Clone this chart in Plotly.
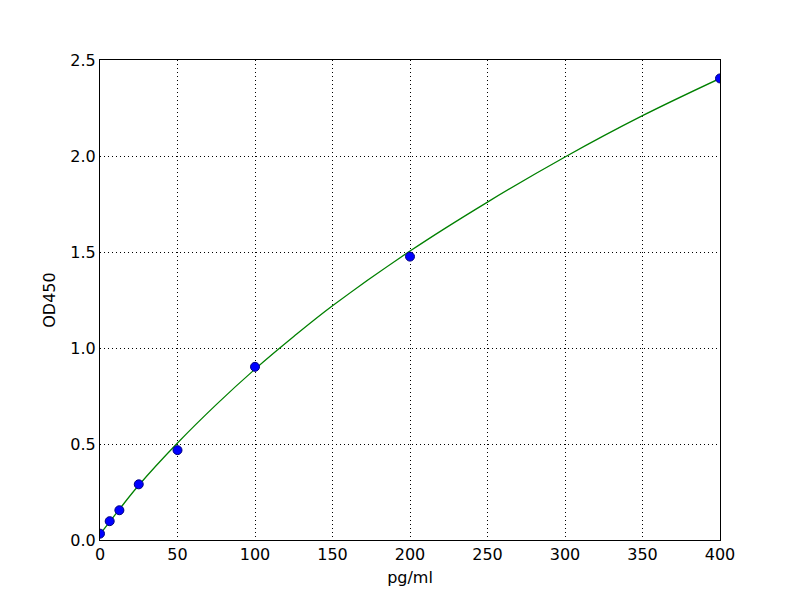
import plotly.graph_objects as go

# Standard points
conc = [0, 6.25, 12.5, 25, 50, 100, 200, 400]
od = [0.033, 0.098, 0.155, 0.29, 0.468, 0.902, 1.476, 2.404]

# Fitted curve
fit_x = [0, 12.5, 25, 50, 75, 100, 125, 150, 200, 250, 300, 350, 400]
fit_y = [0.03, 0.16, 0.285, 0.505, 0.705, 0.89, 1.06, 1.22, 1.505, 1.76, 1.995, 2.21, 2.404]

x_ticks = [0, 50, 100, 150, 200, 250, 300, 350, 400]
y_ticks = [0.0, 0.5, 1.0, 1.5, 2.0, 2.5]

fig = go.Figure()
fig.add_trace(go.Scatter(
    x=fit_x, y=fit_y, mode="lines",
    line=dict(color="#008000", width=1.3, shape="spline", smoothing=1.0),
    hoverinfo="skip", showlegend=False,
))
fig.add_trace(go.Scatter(
    x=conc, y=od, mode="markers",
    marker=dict(color="#0000ff", size=9, line=dict(color="#000080", width=1)),
    showlegend=False,
))

font = dict(family="DejaVu Sans", size=16, color="black")
axis_common = dict(
    showline=True, linecolor="black", linewidth=1.2, mirror=True,
    showgrid=True, gridcolor="black", griddash="1px,3px", gridwidth=1,
    zeroline=False, ticks="", tickfont=font,
)

fig.update_layout(
    width=800, height=600,
    margin=dict(l=92, r=88, t=52, b=68),
    paper_bgcolor="white", plot_bgcolor="white",
    font=font,
    xaxis=dict(
        range=[0, 400], tickvals=x_ticks, ticktext=[str(v) for v in x_ticks],
        title=dict(text="pg/ml", font=font, standoff=8),
        **axis_common,
    ),
    yaxis=dict(
        range=[0, 2.5], tickvals=y_ticks, ticktext=[f"{v:.1f}" for v in y_ticks],
        title=dict(text="OD450", font=font, standoff=10),
        **axis_common,
    ),
)

fig.write_html("out.html")
